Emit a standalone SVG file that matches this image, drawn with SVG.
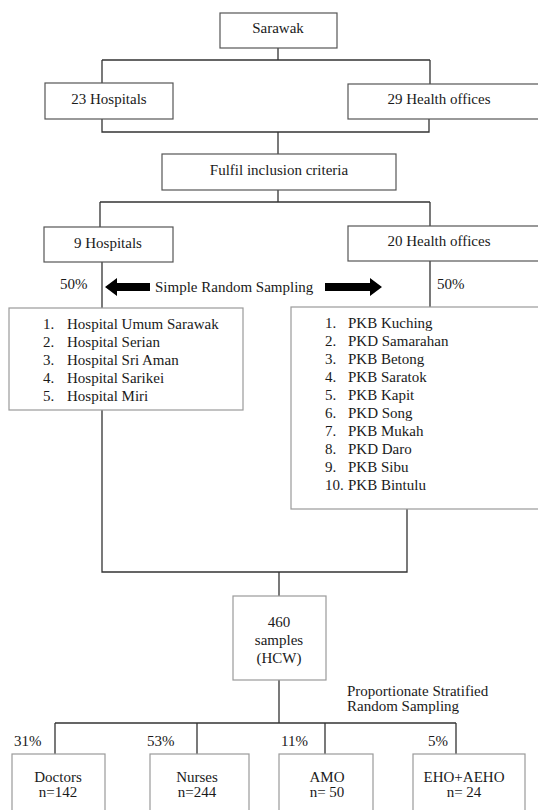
<svg xmlns="http://www.w3.org/2000/svg" width="538" height="810" viewBox="0 0 538 810">
<style>
text{font-family:"Liberation Serif","Tinos","Times New Roman","DejaVu Serif","Noto Serif",serif;font-size:15px;fill:#1a1a1a}
.c{text-anchor:middle}
.bx{fill:#fff;stroke:#555;stroke-width:1.2}
.lb{fill:#fff;stroke:#9a9a9a;stroke-width:1.2}
.ln{fill:none;stroke:#333;stroke-width:1.3}
.ar{fill:#000}
</style>
<g id="connectors">
<path class="ln" d="M278 48V60M102 60H430M102 60V83M430 60V84"/>
<path class="ln" d="M102 119V132H429V119M278 132V154"/>
<path class="ln" d="M278 190V202M100 202H430M100 202V227M430 202V226"/>
<path class="ln" d="M102 262V308M430 261V307"/>
<path class="ln" d="M102 410V572H407V509M279 572V596"/>
<path class="ln" d="M279 680V723M55 723H456M55 723V754M197 723V754M325 723V754M456 723V754"/>
<polygon class="ar" points="105,287 117,278 117,283 150,283 150,291 117,291 117,296"/>
<polygon class="ar" points="382,287 370,278 370,283 325,283 325,291 370,291 370,296"/>
</g>
<g id="sarawak"><rect class="bx" x="220" y="13" width="117" height="35"/><text class="c" x="278" y="33">Sarawak</text></g>
<g id="hosp23"><rect class="bx" x="45" y="83" width="128" height="36"/><text class="c" x="109" y="104">23 Hospitals</text></g>
<g id="health29"><rect class="bx" x="348" y="84" width="200" height="35"/><text class="c" x="439" y="104">29 Health offices</text></g>
<g id="criteria"><rect class="bx" x="162" y="154" width="234" height="36"/><text class="c" x="279" y="175">Fulfil inclusion criteria</text></g>
<g id="hosp9"><rect class="bx" x="44" y="227" width="129" height="35"/><text class="c" x="108" y="248">9 Hospitals</text></g>
<g id="health20"><rect class="bx" x="348" y="226" width="200" height="35"/><text class="c" x="439" y="246">20 Health offices</text></g>
<g id="srs">
<text x="60" y="289">50%</text>
<text x="437" y="289">50%</text>
<text x="155" y="292">Simple Random Sampling</text>
</g>
<g id="hosplist"><rect class="lb" x="9" y="308" width="234" height="102"/>
<text x="43" y="329">1.</text><text x="67" y="329">Hospital Umum Sarawak</text>
<text x="43" y="347">2.</text><text x="67" y="347">Hospital Serian</text>
<text x="43" y="365">3.</text><text x="67" y="365">Hospital Sri Aman</text>
<text x="43" y="383">4.</text><text x="67" y="383">Hospital Sarikei</text>
<text x="43" y="401">5.</text><text x="67" y="401">Hospital Miri</text>
</g>
<g id="pkblist"><rect class="lb" x="291" y="307" width="257" height="202"/>
<text x="325" y="328">1.</text><text x="348" y="328">PKB Kuching</text>
<text x="325" y="346">2.</text><text x="348" y="346">PKD Samarahan</text>
<text x="325" y="364">3.</text><text x="348" y="364">PKB Betong</text>
<text x="325" y="382">4.</text><text x="348" y="382">PKB Saratok</text>
<text x="325" y="400">5.</text><text x="348" y="400">PKB Kapit</text>
<text x="325" y="418">6.</text><text x="348" y="418">PKD Song</text>
<text x="325" y="436">7.</text><text x="348" y="436">PKB Mukah</text>
<text x="325" y="454">8.</text><text x="348" y="454">PKD Daro</text>
<text x="325" y="472">9.</text><text x="348" y="472">PKB Sibu</text>
<text x="325" y="490">10.</text><text x="348" y="490">PKB Bintulu</text>
</g>
<g id="samples"><rect class="lb" x="233" y="596" width="93" height="84"/>
<text class="c" x="279" y="627">460</text><text class="c" x="279" y="645">samples</text><text class="c" x="279" y="663">(HCW)</text></g>
<g id="psrs"><text x="347" y="696">Proportionate Stratified</text><text x="347" y="711">Random Sampling</text></g>
<g id="pct"><text x="14" y="746">31%</text><text x="147" y="746">53%</text><text x="281" y="746">11%</text><text x="428" y="746">5%</text></g>
<g id="doctors"><rect class="lb" x="12" y="754" width="93" height="70"/><text class="c" x="58" y="782">Doctors</text><text class="c" x="58" y="797">n=142</text></g>
<g id="nurses"><rect class="lb" x="150" y="754" width="99" height="70"/><text class="c" x="197" y="782">Nurses</text><text class="c" x="197" y="797">n=244</text></g>
<g id="amo"><rect class="lb" x="279" y="754" width="94" height="70"/><text class="c" x="327" y="782">AMO</text><text class="c" x="327" y="797">n= 50</text></g>
<g id="eho"><rect class="lb" x="413" y="754" width="112" height="70"/><text class="c" x="464" y="782">EHO+AEHO</text><text class="c" x="464" y="797">n= 24</text></g>
</svg>
